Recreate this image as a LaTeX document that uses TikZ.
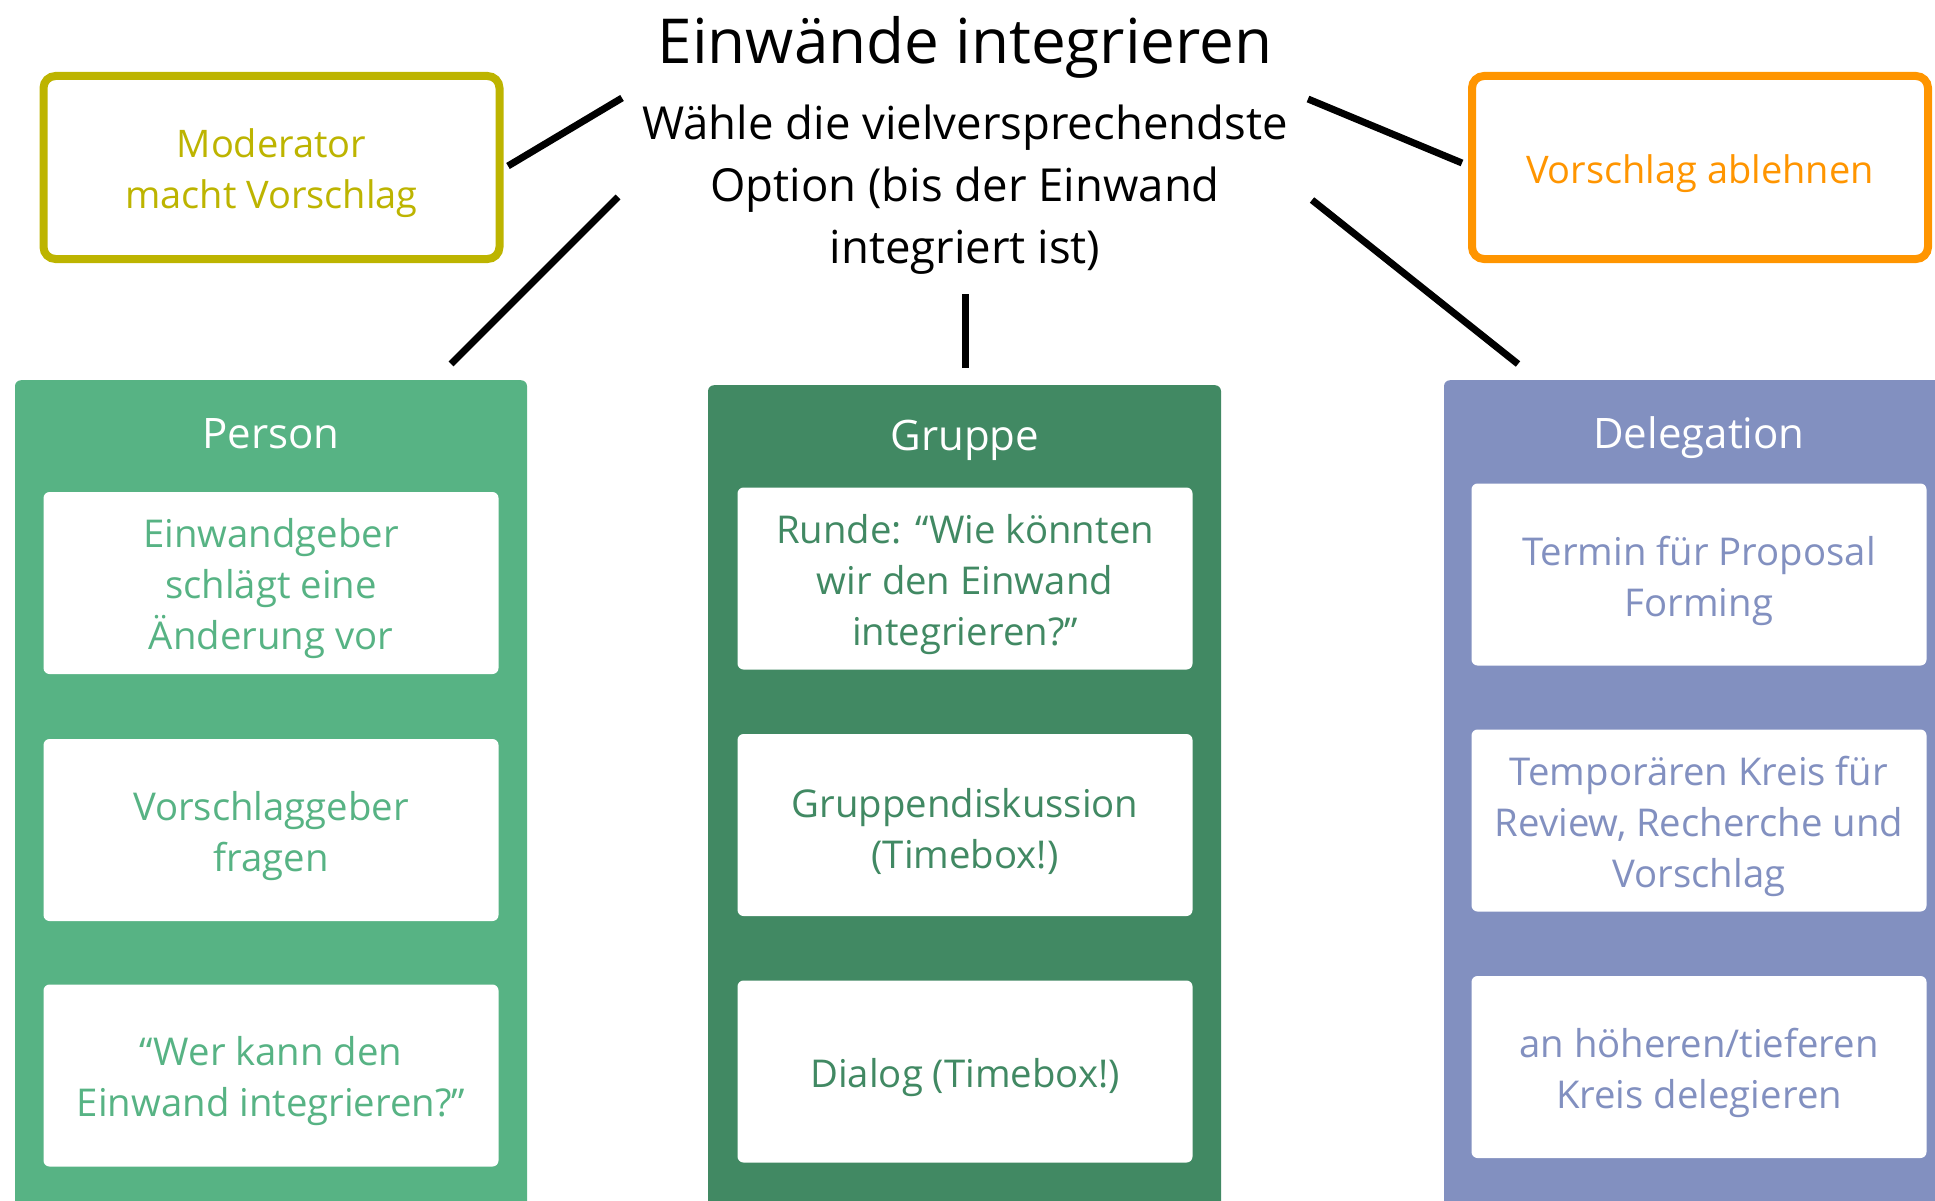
\documentclass[tikz,border=0pt]{standalone}
\usepackage{fontspec}
\setmainfont{Open Sans}
\usetikzlibrary{positioning}
\definecolor{modcol}{RGB}{189,180,0}
\definecolor{rejcol}{RGB}{255,149,0}
\definecolor{personcol}{RGB}{87,179,132}
\definecolor{gruppecol}{RGB}{65,137,99}
\definecolor{delegcol}{RGB}{130,144,192}
\tikzset{
  optbox/.style={draw, line width=8pt, rounded corners=12pt, fill=white, minimum width=456pt, minimum height=183pt},
  opttext/.style={align=center, font=\fontsize{38}{51}\selectfont},
  colbox/.style={rounded corners=6pt, minimum width=512pt, minimum height=870pt, anchor=north},
  coltitle/.style={text=white, anchor=base, font=\fontsize{42}{50}\selectfont},
  itembox/.style={fill=white, rounded corners=6pt, minimum width=455pt, minimum height=182pt},
  itemtext/.style={align=center, font=\fontsize{38.3}{51}\selectfont},
  link/.style={line width=7pt}
}

\begin{document}
\begin{tikzpicture}[x=1pt, y=-1pt]
    \useasboundingbox (0,0) rectangle (1935,1201);
    \node[font=\fontsize{62}{74}\selectfont] (title) at (965,47) {Einwände integrieren};
    \node[align=center, font=\fontsize{45.5}{62}\selectfont] (sub) at (965,190) {Wähle die vielversprechendste\\Option (bis der Einwand\\integriert ist)};
    \node[optbox, draw=modcol] (mod) at (271.5,167.5) {};
    \node[optbox, draw=rejcol] (rej) at (1700,167.5) {};
    \node[opttext, text=modcol] (modtext) at ([yshift=-6pt]mod.center) {Moderator\\macht Vorschlag};
    \node[opttext, text=rejcol] (rejtext) at ([yshift=-6pt]rej.center) {Vorschlag ablehnen};

    \node[colbox, fill=personcol] (person) at (271,380) {};
    \node[colbox, fill=gruppecol, minimum width=513pt] (gruppe) at (964.5,385) {};
    \node[colbox, fill=delegcol] (deleg) at (1700,380) {};
    \node[coltitle] (persontitle) at (271,448) {Person};
    \node[coltitle] (gruppetitle) at (965,450) {Gruppe};
    \node[coltitle] (delegtitle) at (1699,448) {Delegation};

    \node[itembox] (p1) at (271,583) {};
    \node[itembox] (p2) at (271,830) {};
    \node[itembox] (p3) at (271,1075.5) {};
    \node[itembox] (g1) at (965,578.5) {};
    \node[itembox] (g2) at (965,825) {};
    \node[itembox] (g3) at (965,1071.5) {};
    \node[itembox] (d1) at (1699,574.5) {};
    \node[itembox] (d2) at (1699,820.5) {};
    \node[itembox] (d3) at (1699,1067) {};

    \node[itemtext, text=personcol] (p1text) at ([yshift=-6pt]p1.center) {Einwandgeber\\schlägt eine\\Änderung vor};
    \node[itemtext, text=personcol] (p2text) at ([yshift=-6pt]p2.center) {Vorschlaggeber\\fragen};
    \node[itemtext, text=personcol] (p3text) at ([yshift=-6pt]p3.center) {“Wer kann den\\Einwand integrieren?”};
    \node[itemtext, text=gruppecol] (g1text) at ([yshift=-6pt]g1.center) {Runde: “Wie könnten\\wir den Einwand\\integrieren?”};
    \node[itemtext, text=gruppecol] (g2text) at ([yshift=-6pt]g2.center) {Gruppendiskussion\\(Timebox!)};
    \node[itemtext, text=gruppecol] (g3text) at ([yshift=-6pt]g3.center) {Dialog (Timebox!)};
    \node[itemtext, text=delegcol] (d1text) at ([yshift=-6pt]d1.center) {Termin für Proposal\\Forming};
    \node[itemtext, text=delegcol] (d2text) at ([yshift=-6pt]d2.center) {Temporären Kreis für\\Review, Recherche und\\Vorschlag};
    \node[itemtext, text=delegcol] (d3text) at ([yshift=-6pt]d3.center) {an höheren/tieferen\\Kreis delegieren};

    \coordinate (modend) at (508,166);
    \coordinate (modsub) at (622,98);
    \coordinate (personend) at (451,364);
    \coordinate (personsub) at (618,197);
    \coordinate (gruppeend) at (965,368);
    \coordinate (gruppesub) at (965,294);
    \coordinate (rejend) at (1462,163);
    \coordinate (rejsub) at (1308,99);
    \coordinate (delegend) at (1518,364);
    \coordinate (delegsub) at (1312,200);
    \draw[link] (modend) -- (modsub);
    \draw[link] (personend) -- (personsub);
    \draw[link] (gruppeend) -- (gruppesub);
    \draw[link] (rejend) -- (rejsub);
    \draw[link] (delegend) -- (delegsub);
\end{tikzpicture}
\end{document}
